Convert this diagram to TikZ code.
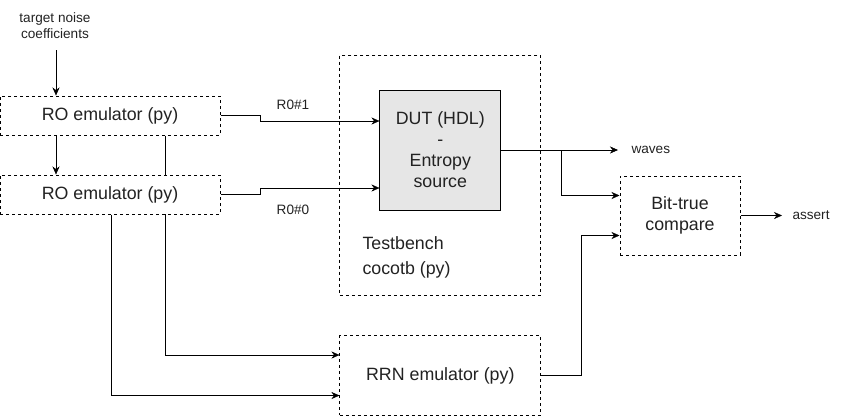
\documentclass[tikz,border=0pt]{standalone}
\usepackage{fontspec}
\setmainfont{Liberation Sans}
\usetikzlibrary{arrows.meta, positioning, calc, backgrounds}
\definecolor{CFill}{HTML}{E6E6E6}
\definecolor{CText}{HTML}{222222}

\begin{document}
\begin{tikzpicture}[x=1pt, y=-1pt, line width=1pt,
    bigfont/.style={font=\fontsize{17.8}{21}\selectfont},
    emubox/.style={draw, dash pattern=on 3pt off 3pt, fill=white, inner sep=0pt, bigfont, text=CText},
    dutbox/.style={draw, fill=CFill, inner sep=0pt, align=center, bigfont, text=CText},
    lbl/.style={font=\fontsize{13.6}{16.5}\selectfont, inner sep=0pt, text=CText},
    arr/.style={-{Stealth[length=8pt, width=7pt]}}]
    \useasboundingbox (0,0) rectangle (851,416);

    % Emulators on the left
    \node[lbl, align=center] (noise) at (55,25.5) {target noise\\coefficients};
    \coordinate (noiseout) at (56,50);
    \node[emubox, minimum width=220, minimum height=39] (ro1) at (110,115.5) {RO emulator (py)};
    \node[emubox, minimum width=220, minimum height=39] (ro2) at (110,194.5) {RO emulator (py)};

    % Testbench with the DUT
    \node[emubox, fill=none, minimum width=200.7, minimum height=240] (tb) at (440.3,175) {};
    \node[dutbox, minimum width=120.7, minimum height=120] (dut) at (440.3,150)
        {DUT (HDL)\\-\\Entropy\\source};
    \node[bigfont, text=CText, align=left, anchor=west, inner sep=0pt,
        font=\fontsize{17.8}{25}\selectfont] (tbtext) at (362,257) {Testbench\\cocotb (py)};

    % Reference model and compare
    \node[emubox, minimum width=200.7, minimum height=79.5] (rrn) at (440.3,375.5) {RRN emulator (py)};
    \node[emubox, align=center, minimum width=120, minimum height=79] (cmp) at (680,215.5) {Bit-true\\compare};

    % Labels
    \node[lbl] (r1lbl) at (293,105) {R0\#1};
    \node[lbl] (r0lbl) at (293,210) {R0\#0};
    \node[lbl, anchor=west, inner xsep=13pt] (waves) at (618,150) {waves};
    \node[lbl, anchor=west, inner xsep=10pt] (assert) at (782,215.5) {assert};

    % Connectors
    \begin{pgfonlayer}{background}
    \draw[arr] (noiseout) -- (noiseout |- ro1.north);
    \draw[arr] (ro1.south -| noiseout) -- (ro2.north -| noiseout);
    \draw[arr] ($(ro1.south)+(55,0)$) |- ($(rrn.west)+(0,-20.5)$);
    \draw[arr] ($(ro2.south)+(0.7,0)$) |- ($(rrn.west)+(0,20)$);
    \draw[arr] (ro1.east) -- ++(40,0) |- ($(dut.west)+(0,-29)$);
    \draw[arr] (ro2.east) -- ++(40,0) |- ($(dut.west)+(0,38)$);
    \draw[arr] (dut.east) -- (waves.west);
    \draw[arr] ($(dut.east)+(60,0)$) |- ($(cmp.west)+(0,-20)$);
    \draw[arr] (rrn.east) -- ++(40,0) |- ($(cmp.west)+(0,20)$);
    \draw[arr] (cmp.east) -- (assert.west);
    \end{pgfonlayer}
\end{tikzpicture}
\end{document}
